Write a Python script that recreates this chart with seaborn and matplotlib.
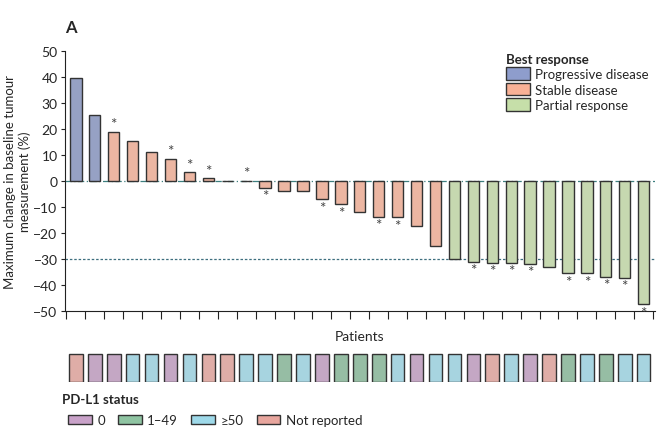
import matplotlib
matplotlib.use("Agg")
import matplotlib.pyplot as plt
import seaborn as sns
import pandas as pd
import numpy as np
from matplotlib.patches import Patch

values = [39.5, 25.5, 19, 15.5, 11.3, 8.5, 3.3, 1, 0, 0, -2.7, -3.8, -3.8, -7, -9, -11.8,
          -13.8, -14, -17.5, -25, -30, -31, -31.5, -31.5, -32, -33, -35.5, -35.5, -37, -37.3, -47.5]
response = ["Progressive disease"] * 2 + ["Stable disease"] * 18 + ["Partial response"] * 11
stars = [2, 5, 6, 7, 9, 10, 13, 14, 16, 17, 21, 22, 23, 24, 26, 27, 28, 29, 30]
pdl1 = ["Not reported", "0", "0", "≥50", "≥50", "0", "≥50", "Not reported", "Not reported", "≥50",
        "≥50", "1–49", "≥50", "0", "1–49", "1–49", "1–49", "≥50", "0", "≥50", "≥50", "0",
        "Not reported", "≥50", "0", "Not reported", "1–49", "≥50", "1–49", "≥50", "≥50"]

resp_colors = {"Progressive disease": "#8E9DCC", "Stable disease": "#F8B196", "Partial response": "#C6DFA9"}
pd_colors = {"0": "#C9A2C9", "1–49": "#8FC4A2", "≥50": "#9ED9E9", "Not reported": "#E8A69E"}

sns.set_style("white")
plt.rcParams["font.family"] = ["Lato", "DejaVu Sans"]
fig = plt.figure(figsize=(6.65, 4.35), dpi=100)
L, W = 0.097, 0.888
ax = fig.add_axes([L, 0.283, W, 0.597])
n = len(values)
df = pd.DataFrame({"patient": np.arange(n), "value": values, "response": response})
sns.barplot(data=df, x="patient", y="value", hue="response", palette=resp_colors, dodge=False,
            width=0.6, edgecolor="#333333", linewidth=1, legend=False, ax=ax)
ax.set_xlim(-0.6, n - 0.4)
ax.set_ylim(-50, 50)
ax.axhline(0, color="#3D7F7F", ls=(0, (5, 2, 1, 2)), lw=0.9, zorder=0)
ax.axhline(-30, color="#3D6F7F", ls=(0, (2, 1.5)), lw=0.9, zorder=0)
for i in stars:
    v = values[i]
    if v > 0 or (v == 0 and i == 9):
        ax.text(i, v + 0.3, "*", ha="center", va="bottom", fontsize=11, color="#444444")
    else:
        ax.text(i, v - 0.5, "*", ha="center", va="top", fontsize=11, color="#444444")
ax.set_yticks(range(-50, 51, 10))
ax.tick_params(axis="y", labelsize=10, length=3, left=True, color="#222222", pad=2)
ax.set_xticks(np.arange(-0.5, n, 1))
ax.set_xticklabels([])
ax.tick_params(axis="x", length=6, bottom=True, color="#222222")
ax.set_xlabel("Patients", fontsize=10, labelpad=4)
ax.set_ylabel("Maximum change in baseline tumour\nmeasurement (%)", fontsize=9.5, labelpad=2)
for s in ["top", "right"]:
    ax.spines[s].set_visible(False)
for s in ["left", "bottom"]:
    ax.spines[s].set_color("#222222")
handles = [Patch(facecolor=c, edgecolor="#333333", label=k) for k, c in resp_colors.items()]
ax.legend(handles=handles, title="Best response", loc="upper right", bbox_to_anchor=(1.01, 1.04),
          frameon=False, fontsize=9.5, title_fontproperties={"weight": "bold", "size": 9.5},
          handlelength=1.8, handleheight=1.1, handletextpad=0.4, labelspacing=0.2, alignment="left")
fig.text(0.098, 0.925, "A", fontsize=12, fontweight="bold")

ax2 = fig.add_axes([L, 0.12, W, 0.066])
sdf = pd.DataFrame({"patient": np.arange(n), "h": [1] * n, "pdl1": pdl1})
sns.barplot(data=sdf, x="patient", y="h", hue="pdl1", palette=pd_colors, dodge=False, width=0.72,
            edgecolor="#333333", linewidth=1, legend=False, ax=ax2)
ax2.set_xlim(-0.6, n - 0.4)
ax2.set_ylim(0, 1.02)
ax2.axis("off")
fig.text(0.093, 0.072, "PD-L1 status", fontsize=9.5, fontweight="bold")
h2 = [Patch(facecolor=c, edgecolor="#333333", label=k) for k, c in pd_colors.items()]
fig.legend(handles=h2, loc="lower left", bbox_to_anchor=(0.085, -0.01), ncol=4, frameon=False,
           fontsize=9.5, handlelength=1.8, handletextpad=0.4, columnspacing=1.0)
fig.savefig("out.png", dpi=100)
